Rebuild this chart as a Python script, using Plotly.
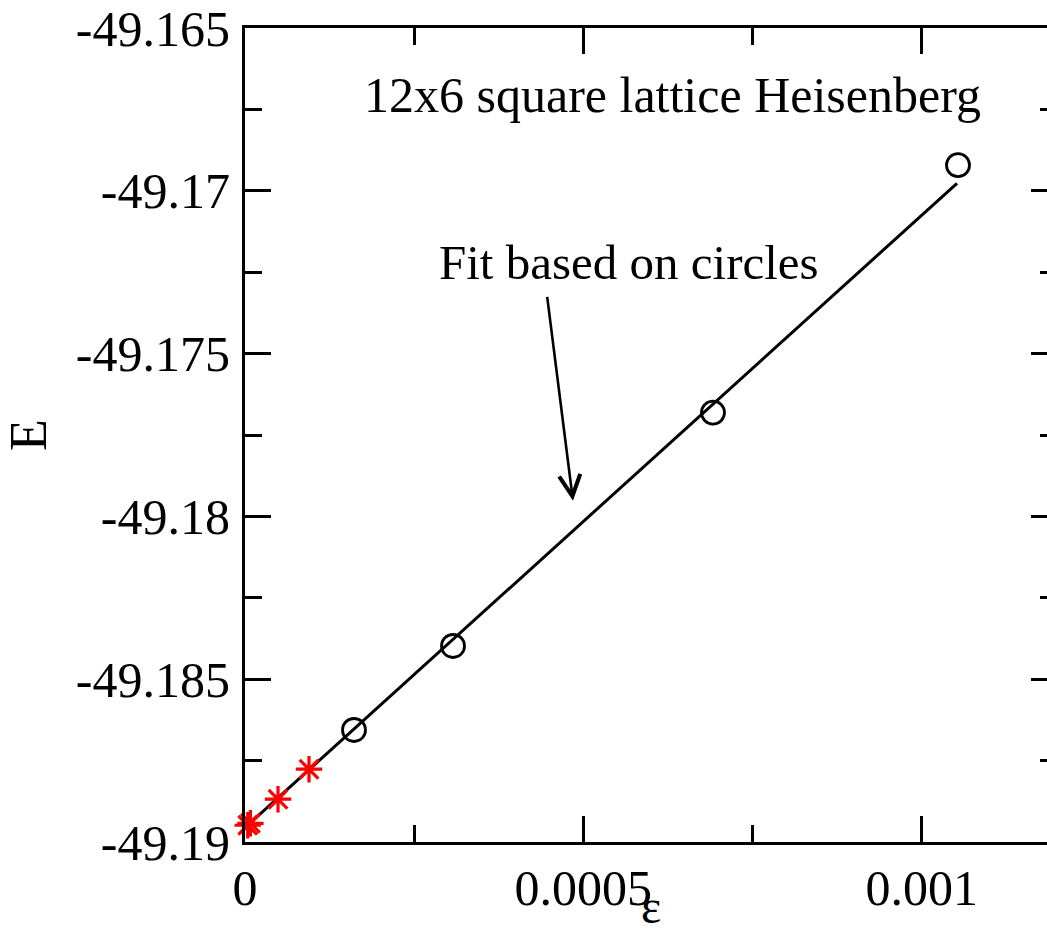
import plotly.graph_objects as go

# Energy vs truncation error, 12x6 square lattice Heisenberg model
circle_eps = [0.0010537, 0.0006916, 0.0003074, 0.0001611]
circle_E = [-49.169214, -49.17681, -49.18398, -49.18656]

star_eps = [0.0000040, 0.0000080, 0.0000488, 0.0000946]
star_E = [-49.189486, -49.189425, -49.188686, -49.187764]

# linear extrapolation drawn through the circle points
fit_eps = [0.0, 0.0010522]
fit_E = [-49.18956, -49.16977]

x_tickvals = [0, 0.0005, 0.001]
x_ticktext = ["0", "0.0005", "0.001"]
y_tickvals = [-49.19, -49.185, -49.18, -49.175, -49.17, -49.165]
y_ticktext = ["-49.19", "-49.185", "-49.18", "-49.175", "-49.17", "-49.165"]

FONT = "Liberation Serif"

fig = go.Figure()
fig.add_trace(go.Scatter(
    x=fit_eps, y=fit_E, mode="lines",
    line=dict(color="black", width=3), showlegend=False, hoverinfo="skip"))
fig.add_trace(go.Scatter(
    x=circle_eps, y=circle_E, mode="markers",
    marker=dict(symbol="circle-open", size=23, color="black",
                line=dict(color="black", width=2.8)),
    showlegend=False, cliponaxis=False))
fig.add_trace(go.Scatter(
    x=star_eps, y=star_E, mode="markers",
    marker=dict(symbol="asterisk-open", size=22, color="red",
                line=dict(color="red", width=3.2)),
    showlegend=False, cliponaxis=False))

axis_common = dict(
    showline=True, linecolor="black", linewidth=3, mirror="ticks",
    ticks="inside", ticklen=26, tickwidth=2.8, tickcolor="black",
    showgrid=False, zeroline=False, automargin=False,
    tickfont=dict(family=FONT, size=50, color="black"),
)

fig.update_xaxes(
    range=[0, 0.0012], tickmode="array", tickvals=x_tickvals, ticktext=x_ticktext,
    minor=dict(ticks="inside", ticklen=17, tickwidth=2.8, tickcolor="black",
               tick0=0, dtick=0.00025, showgrid=False),
    **axis_common)
fig.update_yaxes(
    range=[-49.19, -49.165], tickmode="array", tickvals=y_tickvals, ticktext=y_ticktext,
    title=dict(text="E", font=dict(family=FONT, size=52, color="black"), standoff=33),
    minor=dict(ticks="inside", ticklen=17, tickwidth=2.8, tickcolor="black",
               tick0=-49.19, dtick=0.0025, showgrid=False),
    ticklabelstandoff=2,
    **axis_common)

# x-axis title, centred on the full axis length below the tick labels
fig.add_annotation(
    x=0.5, y=-0.1125, xref="x domain", yref="y domain", yanchor="bottom",
    text="ε", showarrow=False, borderpad=0,
    font=dict(family=FONT, size=48, color="black"))

fig.add_annotation(
    x=0.0006325, y=-49.16706, xref="x", yref="y",
    text="12x6 square lattice Heisenberg", showarrow=False,
    font=dict(family=FONT, size=50, color="black"))
fig.add_annotation(
    x=0.0005675, y=-49.17220, xref="x", yref="y",
    text="Fit based on circles", showarrow=False,
    font=dict(family=FONT, size=49, color="black"))
fig.add_annotation(
    x=0.0004847, y=-49.17952, xref="x", yref="y",
    ax=0.0004463, ay=-49.17321, axref="x", ayref="y",
    text="", showarrow=True, arrowhead=5, arrowsize=1.6, arrowwidth=2.6,
    arrowcolor="black")

fig.update_layout(
    width=1100, height=936,
    margin=dict(l=245, r=43, t=28, b=94),
    plot_bgcolor="white", paper_bgcolor="white",
)

fig.write_html(
    "out.html",
    post_script="document.body.style.overflow='hidden';"
                "document.documentElement.style.overflow='hidden';"
                "document.body.style.margin='0';")
